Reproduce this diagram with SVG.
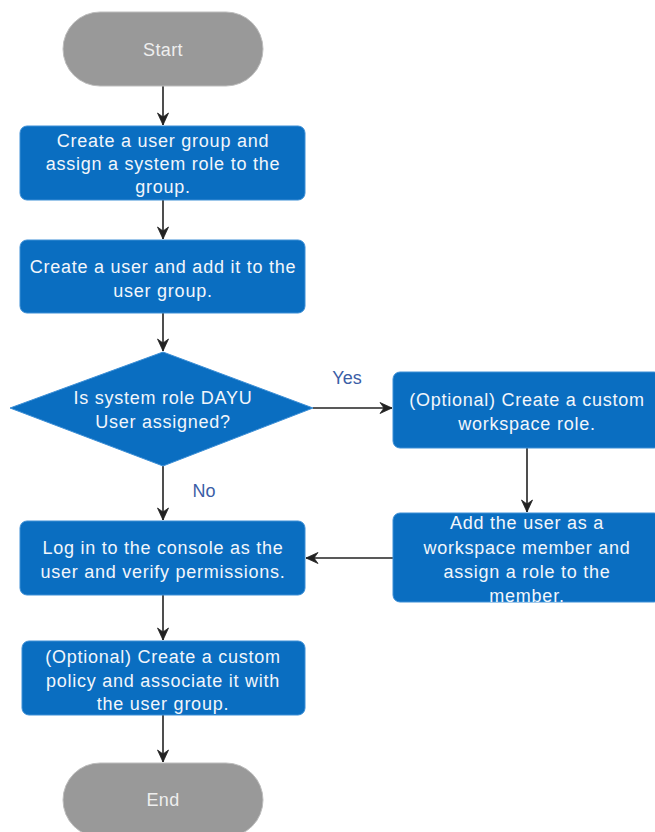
<svg xmlns="http://www.w3.org/2000/svg" width="655" height="832" viewBox="0 0 655 832">
<style>
.term{fill:#999999;stroke:#bdbdbd;stroke-width:1}
.box{fill:#0a6ec1;stroke:#3d8fd6;stroke-width:1}
.t{font-family:"Liberation Sans",Arial,sans-serif;font-size:18px;letter-spacing:0.75px;fill:#f2f6fb;text-anchor:middle}
.tt{font-family:"Liberation Sans",Arial,sans-serif;font-size:18px;letter-spacing:0.4px;fill:#eeeeee;text-anchor:middle}
.lbl{font-family:"Liberation Sans",Arial,sans-serif;font-size:18px;fill:#3b5ea6;text-anchor:middle}
.c{stroke:#222;stroke-width:1.6;fill:none;marker-end:url(#ah)}
</style>
<defs>
<marker id="ah" viewBox="0 0 14 14" refX="13" refY="7" markerWidth="14" markerHeight="14" markerUnits="userSpaceOnUse" orient="auto">
<path d="M1,1.5 L13,7 L1,12.5 L5,7 Z" fill="#222" stroke="#222" stroke-width="0.8" stroke-linejoin="round"/>
</marker>
</defs>
<g id="connectors">
<path class="c" d="M163,86 V125"/>
<path class="c" d="M163,200 V239"/>
<path class="c" d="M163,313 V351"/>
<path class="c" d="M313,408 H392"/>
<path class="c" d="M527,448 V512"/>
<path class="c" d="M393,558 H306"/>
<path class="c" d="M163,466 V520"/>
<path class="c" d="M163,595 V640"/>
<path class="c" d="M163,715 V762"/>
<text class="lbl" x="347" y="384">Yes</text>
<text class="lbl" x="204" y="497">No</text>
</g>
<g id="start">
<rect class="term" x="63" y="12" width="200" height="74" rx="37"/>
<text class="tt" x="163" y="56">Start</text>
</g>
<g id="n1">
<rect class="box" x="20" y="126" width="285" height="74" rx="7"/>
<text class="t" x="163" y="147">Create a user group and</text>
<text class="t" x="163" y="170">assign a system role to the</text>
<text class="t" x="163" y="193">group.</text>
</g>
<g id="n2">
<rect class="box" x="20" y="240" width="285" height="73" rx="7"/>
<text class="t" x="163" y="273">Create a user and add it to the</text>
<text class="t" x="163" y="297">user group.</text>
</g>
<g id="decision">
<path class="box" d="M163,352 L313,408 L163,466 L10,408 Z" stroke-linejoin="round"/>
<text class="t" x="163" y="404">Is system role DAYU</text>
<text class="t" x="163" y="428">User assigned?</text>
</g>
<g id="n3">
<rect class="box" x="393" y="372" width="268" height="76" rx="7"/>
<text class="t" x="527" y="406">(Optional) Create a custom</text>
<text class="t" x="527" y="430">workspace role.</text>
</g>
<g id="n4">
<rect class="box" x="393" y="513" width="268" height="89" rx="7"/>
<text class="t" x="527" y="529">Add the user as a</text>
<text class="t" x="527" y="554">workspace member and</text>
<text class="t" x="527" y="578">assign a role to the</text>
<text class="t" x="527" y="602">member.</text>
</g>
<g id="n5">
<rect class="box" x="20" y="521" width="285" height="74" rx="7"/>
<text class="t" x="163" y="554">Log in to the console as the</text>
<text class="t" x="163" y="578">user and verify permissions.</text>
</g>
<g id="n6">
<rect class="box" x="22" y="641" width="283" height="74" rx="7"/>
<text class="t" x="163" y="663">(Optional) Create a custom</text>
<text class="t" x="163" y="687">policy and associate it with</text>
<text class="t" x="163" y="710">the user group.</text>
</g>
<g id="end">
<rect class="term" x="63" y="763" width="200" height="74" rx="37"/>
<text class="tt" x="163" y="806">End</text>
</g>
</svg>
